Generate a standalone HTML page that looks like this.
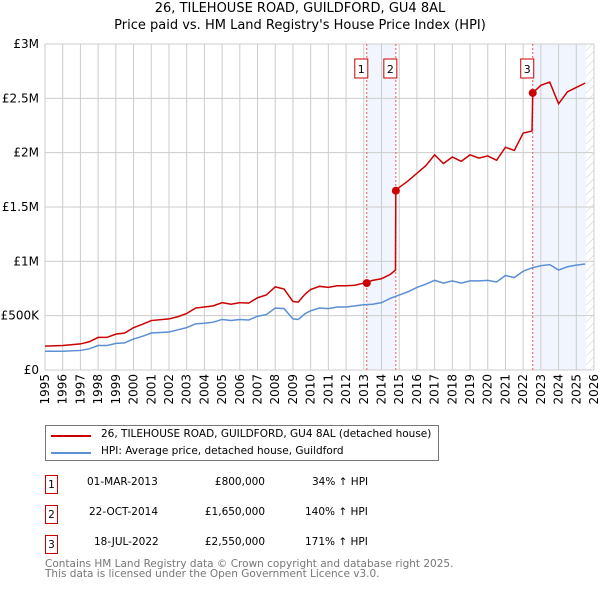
<!DOCTYPE html>
<html><head><meta charset="utf-8">
<style>
body{margin:0;background:#fff;font-family:"DejaVu Sans","Liberation Sans",sans-serif;}
#wrap{position:relative;width:600px;height:590px;overflow:hidden;}
.t{position:absolute;font-size:12px;color:#000;white-space:nowrap}
.box{position:absolute;width:13px;height:19px;border:1px solid #c00;font-size:10.5px;text-align:center;line-height:19px;box-sizing:border-box}
</style></head><body>
<div id="wrap">
<div class="t" style="left:0;width:600px;text-align:center;top:1px;font-size:13px">26, TILEHOUSE ROAD, GUILDFORD, GU4 8AL</div>
<div class="t" style="left:0;width:600px;text-align:center;top:18px;font-size:13px">Price paid vs. HM Land Registry's House Price Index (HPI)</div>
<svg id="chart" width="600" height="420" style="position:absolute;left:0;top:0"></svg>
<div style="position:absolute;left:45px;top:425px;width:394px;height:36px;border:1px solid #777;box-sizing:border-box">
 <div style="position:absolute;left:5px;top:9px;width:40px;height:2px;background:#c00"></div>
 <div class="t" style="left:55px;top:2px;font-size:10.5px">26, TILEHOUSE ROAD, GUILDFORD, GU4 8AL (detached house)</div>
 <div style="position:absolute;left:5px;top:26px;width:40px;height:2px;background:#5b8fd4"></div>
 <div class="t" style="left:55px;top:19px;font-size:10.5px">HPI: Average price, detached house, Guildford</div>
</div>
<div>
 <div class="box" style="left:45px;top:475px">1</div>
 <div class="t" style="left:87px;top:476px;font-size:10.5px">01-MAR-2013</div>
 <div class="t" style="left:190px;width:75px;text-align:right;top:476px;font-size:10.5px">£800,000</div>
 <div class="t" style="left:312px;top:476px;font-size:10.5px">34% ↑ HPI</div>
 <div class="box" style="left:45px;top:505px">2</div>
 <div class="t" style="left:89px;top:506px;font-size:10.5px">22-OCT-2014</div>
 <div class="t" style="left:190px;width:75px;text-align:right;top:506px;font-size:10.5px">£1,650,000</div>
 <div class="t" style="left:305px;top:506px;font-size:10.5px">140% ↑ HPI</div>
 <div class="box" style="left:45px;top:535px">3</div>
 <div class="t" style="left:94px;top:536px;font-size:10.5px">18-JUL-2022</div>
 <div class="t" style="left:190px;width:75px;text-align:right;top:536px;font-size:10.5px">£2,550,000</div>
 <div class="t" style="left:305px;top:536px;font-size:10.5px">171% ↑ HPI</div>
</div>
<div class="t" style="left:45px;top:559px;font-size:10.5px;color:#777;line-height:10px">Contains HM Land Registry data © Crown copyright and database right 2025.<br>This data is licensed under the Open Government Licence v3.0.</div>
</div>
<script>
const hpiDates=[1995,1996,1997,1997.5,1998,1998.5,1999,1999.5,2000,2000.5,2001,2002,2002.5,2003,2003.5,2004,2004.5,2005,2005.5,2006,2006.5,2007,2007.5,2008,2008.5,2009,2009.3,2009.7,2010,2010.5,2011,2011.5,2012,2012.5,2013,2013.5,2014,2014.5,2015,2015.5,2016,2016.5,2017,2017.5,2018,2018.5,2019,2019.5,2020,2020.5,2021,2021.5,2022,2022.5,2023,2023.5,2024,2024.5,2025,2025.5];
const hpiValues=[172,172,180,195,225,225,245,250,285,310,340,350,370,390,425,430,440,465,455,465,460,495,510,570,565,470,465,520,545,570,565,580,580,590,600,605,620,660,690,720,760,790,825,800,820,800,820,820,825,810,870,850,910,940,960,970,920,950,965,975];
const propDates=[1995,1996,1997,1997.5,1998,1998.5,1999,1999.5,2000,2000.5,2001,2002,2002.5,2003,2003.5,2004,2004.5,2005,2005.5,2006,2006.5,2007,2007.5,2008,2008.5,2009,2009.3,2009.7,2010,2010.5,2011,2011.5,2012,2012.5,2013,2013.5,2014,2014.5,2014.79,2014.81,2015,2015.5,2016,2016.5,2017,2017.5,2018,2018.5,2019,2019.5,2020,2020.5,2021,2021.5,2022,2022.5,2022.54,2023,2023.5,2024,2024.5,2025,2025.5];
const propValues=[220,225,240,260,300,300,330,340,390,420,455,470,490,520,570,580,590,620,605,620,615,665,690,765,745,630,625,700,740,770,760,775,775,780,800,825,840,880,920,1650,1680,1740,1810,1880,1980,1900,1960,1920,1980,1950,1970,1930,2050,2020,2180,2200,2550,2620,2650,2450,2560,2600,2640];
const saleDates=[2013.17,2014.81,2022.54];
const saleValues=[800,1650,2550];
const saleLabels=["1","2","3"];
const yTicks=[0,500,1000,1500,2000,2500,3000];
const yTickLabels=["£0","£500K","£1M","£1.5M","£2M","£2.5M","£3M"];

const X0=45,X1=594,Y0=370,Y1=44;
const xs=d=>X0+(d-1995)/(2026-1995)*(X1-X0);
const ys=v=>Y0-v/3000*(Y0-Y1);
const svg=document.getElementById('chart');
const NS='http://www.w3.org/2000/svg';
const FF='DejaVu Sans, Liberation Sans, sans-serif';
function mk(tag,attrs){const e=document.createElementNS(NS,tag);for(const k in attrs)e.setAttribute(k,attrs[k]);svg.appendChild(e);return e;}
const defs=mk('defs',{});
defs.innerHTML='<pattern id="hatch" width="6" height="6" patternUnits="userSpaceOnUse" patternTransform="rotate(45)"><line x1="0" y1="0" x2="0" y2="6" stroke="#ccc" stroke-width="1"/></pattern>';
let r=mk('rect',{x:xs(saleDates[0]),y:Y1,width:xs(saleDates[1])-xs(saleDates[0]),height:Y0-Y1,fill:'#eef3fc',opacity:0.8});

r=mk('rect',{x:xs(saleDates[2]),y:Y1,width:xs(2025.55)-xs(saleDates[2]),height:Y0-Y1,fill:'#eef3fc',opacity:0.8});

r=mk('rect',{x:xs(2025.55),y:Y1,width:X1-xs(2025.55),height:Y0-Y1,fill:'url(#hatch)'});

for(let y=1995;y<=2026;y++){
 const g=mk('line',{x1:xs(y),x2:xs(y),y1:Y1,y2:Y0,stroke:'#ccc','stroke-width':1});
 
 const t=mk('text',{x:xs(y),y:Y0+4,transform:`rotate(-90 ${xs(y)} ${Y0+4})`,'text-anchor':'end','dominant-baseline':'central','font-size':12,'font-family':FF});
 t.textContent=y;
 
}
yTicks.forEach((v,i)=>{
 const g=mk('line',{x1:X0,x2:X1,y1:ys(v),y2:ys(v),stroke:'#ccc','stroke-width':1});
 
 const t=mk('text',{x:X0-6,y:ys(v)+4,'text-anchor':'end','font-size':12,'font-family':FF});
 t.textContent=yTickLabels[i];
 
});
const ax=mk('line',{x1:X0,x2:X0,y1:Y1,y2:Y0,stroke:'#ccc'});

saleDates.forEach((d,i)=>{
 const l=mk('line',{x1:xs(d),x2:xs(d),y1:Y1,y2:Y0,stroke:'#e55','stroke-width':1,'stroke-dasharray':'2,2'});
 
 const b=mk('rect',{x:xs(d)-12,y:59,width:13,height:19,fill:'#fff',stroke:'#c00'});
 
 const t=mk('text',{x:xs(d)-5.5,y:73,'text-anchor':'middle','font-size':11,'font-family':FF});
 t.textContent=saleLabels[i];
 
});
const hp=mk('polyline',{points:hpiDates.map((d,i)=>xs(d)+','+ys(hpiValues[i])).join(' '),fill:'none',stroke:'#5b8fd4','stroke-width':1.5});

const pp=mk('polyline',{points:propDates.map((d,i)=>xs(d)+','+ys(propValues[i])).join(' '),fill:'none',stroke:'#c00','stroke-width':1.5});

saleDates.forEach((d,i)=>{
 const c=mk('circle',{cx:xs(d),cy:ys(saleValues[i]),r:4,fill:'#c00'});
 
});
</script>
</body></html>
